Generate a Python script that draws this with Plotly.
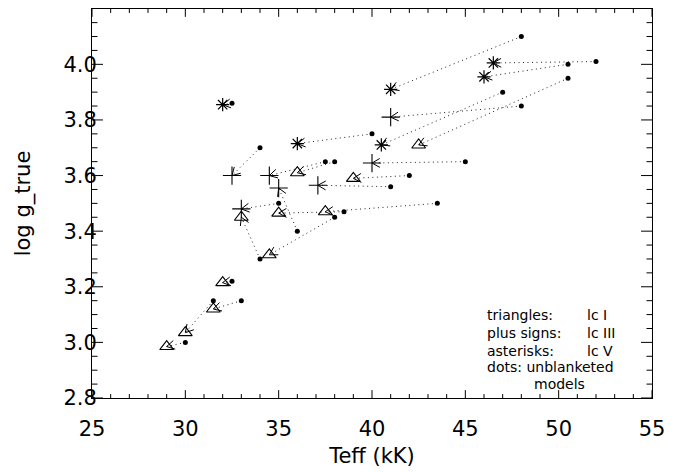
import math
import plotly.graph_objects as go

# Blanketed model fits (marker ends) and matching unblanketed models (dot ends)
# Luminosity class V (asterisks)
ast_teff = [32.0, 36.0, 40.5, 41.0, 46.0, 46.5]
ast_logg = [3.855, 3.715, 3.71, 3.91, 3.955, 4.005]
ast_teff_unbl = [32.5, 40.0, 47.0, 48.0, 50.5, 52.0]
ast_logg_unbl = [3.86, 3.75, 3.90, 4.10, 4.00, 4.01]

# Luminosity class III (plus signs)
plus_teff = [32.5, 34.5, 35.0, 33.0, 37.1, 40.0, 41.0]
plus_logg = [3.60, 3.60, 3.555, 3.48, 3.565, 3.645, 3.81]
plus_teff_unbl = [34.0, 37.5, 36.0, 35.0, 41.0, 45.0, 48.0]
plus_logg_unbl = [3.70, 3.65, 3.40, 3.50, 3.56, 3.65, 3.85]

# Luminosity class I (triangles)
tri_teff = [29.0, 30.0, 31.5, 32.0, 33.0, 34.5, 35.0, 36.0, 37.5, 39.0, 42.5]
tri_logg = [2.985, 3.035, 3.12, 3.215, 3.45, 3.315, 3.465, 3.61, 3.47, 3.59, 3.71]
tri_teff_unbl = [30.0, 31.5, 33.0, 32.5, 34.0, 38.0, 38.5, 38.0, 43.5, 42.0, 50.5]
tri_logg_unbl = [3.00, 3.15, 3.15, 3.22, 3.30, 3.45, 3.47, 3.65, 3.50, 3.60, 3.95]

X_RANGE = [25, 55]
Y_RANGE = [2.8, 4.199]

# axis tick positions (major labelled, minor unlabelled)
x_major = [25, 30, 35, 40, 45, 50, 55]
x_minor = [v for v in range(26, 55) if v % 5]
y_major = [2.8, 3.0, 3.2, 3.4, 3.6, 3.8, 4.0]
y_minor = [round(2.8 + 0.05 * i, 2) for i in range(1, 28) if i % 4]

W, H = 680, 472
M = dict(l=92, r=28, t=8, b=68)
PW = W - M["l"] - M["r"]
PH = H - M["t"] - M["b"]
SX = PW / (X_RANGE[1] - X_RANGE[0])   # pixels per kK
SY = PH / (Y_RANGE[1] - Y_RANGE[0])   # pixels per dex

FONT = "DejaVu Sans"

groups = [
    (ast_teff, ast_logg, ast_teff_unbl, ast_logg_unbl),
    (plus_teff, plus_logg, plus_teff_unbl, plus_logg_unbl),
    (tri_teff, tri_logg, tri_teff_unbl, tri_logg_unbl),
]

# dotted shafts from unblanketed model to blanketed fit
shaft_x, shaft_y = [], []
# open arrow heads at the fit end (30 deg half angle, fixed pixel length)
head_x, head_y = [], []
HEAD_LEN = 9.0
HALF = math.radians(30)
for tx, ty, ux, uy in groups:
    for xm, ym, xd, yd in zip(tx, ty, ux, uy):
        shaft_x += [xd, xm, None]
        shaft_y += [yd, ym, None]
        dx = (xd - xm) * SX
        dy = (yd - ym) * SY
        n = math.hypot(dx, dy)
        ex, ey = dx / n, dy / n
        arms = []
        for s in (HALF, -HALF):
            rx = ex * math.cos(s) - ey * math.sin(s)
            ry = ex * math.sin(s) + ey * math.cos(s)
            arms.append((xm + HEAD_LEN * rx / SX, ym + HEAD_LEN * ry / SY))
        head_x += [arms[0][0], xm, arms[1][0], None]
        head_y += [arms[0][1], ym, arms[1][1], None]

# inward-pointing tick marks on all four sides of the frame
tick_x, tick_y = [], []
x0, x1 = X_RANGE
y0, y1 = Y_RANGE
for vals, length in ((x_major, 8), (x_minor, 4)):
    d = length / SY
    for v in vals:
        tick_x += [v, v, None, v, v, None]
        tick_y += [y0, y0 + d, None, y1, y1 - d, None]
for vals, length in ((y_major, 11), (y_minor, 5.5)):
    d = length / SX
    for v in vals:
        tick_x += [x0, x0 + d, None, x1, x1 - d, None]
        tick_y += [v, v, None, v, v, None]

fig = go.Figure()

fig.add_trace(go.Scatter(
    x=shaft_x, y=shaft_y, mode="lines",
    line=dict(color="#222", width=1, dash="1px,3.5px"),
    hoverinfo="skip", showlegend=False))

fig.add_trace(go.Scatter(
    x=head_x, y=head_y, mode="lines",
    line=dict(color="black", width=1),
    hoverinfo="skip", showlegend=False))

fig.add_trace(go.Scatter(
    x=ast_teff_unbl + plus_teff_unbl + tri_teff_unbl,
    y=ast_logg_unbl + plus_logg_unbl + tri_logg_unbl,
    mode="markers", name="dots: unblanketed models",
    marker=dict(symbol="circle", size=5, color="black"),
    showlegend=False))

fig.add_trace(go.Scatter(
    x=ast_teff, y=ast_logg, mode="markers", name="asterisks: lc V",
    marker=dict(symbol="asterisk-open", size=11, color="black",
                line=dict(color="black", width=1.2)),
    showlegend=False))

fig.add_trace(go.Scatter(
    x=plus_teff, y=plus_logg, mode="markers", name="plus signs: lc III",
    marker=dict(symbol="cross-thin-open", size=13, color="black",
                line=dict(color="black", width=1.1)),
    showlegend=False))

fig.add_trace(go.Scatter(
    x=tri_teff, y=tri_logg, mode="markers", name="triangles: lc I",
    marker=dict(symbol="triangle-up-open", size=12, color="black",
                line=dict(color="black", width=1.1)),
    showlegend=False))

fig.add_trace(go.Scatter(
    x=tick_x, y=tick_y, mode="lines", cliponaxis=False,
    line=dict(color="black", width=1, simplify=False),
    hoverinfo="skip", showlegend=False))

fig.update_xaxes(
    range=X_RANGE, tickmode="array", tickvals=x_major,
    ticktext=[str(v) for v in x_major], ticks="",
    showline=True, linecolor="black", linewidth=1, mirror=True,
    showgrid=False, zeroline=False,
    tickfont=dict(family=FONT, size=21, color="black"),
    ticklabelstandoff=12,
    title=dict(text="Teff (kK)", font=dict(family=FONT, size=21, color="black"),
               standoff=8))

fig.update_yaxes(
    range=Y_RANGE, tickmode="array", tickvals=y_major,
    ticktext=[f"{v:.1f}" for v in y_major], ticks="",
    showline=True, linecolor="black", linewidth=1, mirror=True,
    showgrid=False, zeroline=False,
    tickfont=dict(family=FONT, size=21, color="black"),
    ticklabelstandoff=-10,
    title=dict(text="log g_true", font=dict(family=FONT, size=21, color="black"),
               standoff=27))

legend_left = ["triangles:", "plus signs:", "asterisks:", "dots: unblanketed"]
legend_right = ["lc I", "lc III", "lc V"]
line_y = [320, 338, 356, 372.7]
LEG_FONT = dict(family=FONT, size=14, color="black")
for txt, yp in zip(legend_left, line_y):
    fig.add_annotation(text=txt, xref="paper", yref="paper",
                       x=(485 - M["l"]) / PW, y=(M["t"] + PH - yp) / PH,
                       xanchor="left", yanchor="middle", showarrow=False,
                       font=LEG_FONT)
for txt, yp in zip(legend_right, line_y):
    fig.add_annotation(text=txt, xref="paper", yref="paper",
                       x=(585 - M["l"]) / PW, y=(M["t"] + PH - yp) / PH,
                       xanchor="left", yanchor="middle", showarrow=False,
                       font=LEG_FONT)
fig.add_annotation(text="models", xref="paper", yref="paper",
                   x=(532 - M["l"]) / PW, y=(M["t"] + PH - 389.3) / PH,
                   xanchor="left", yanchor="middle", showarrow=False,
                   font=LEG_FONT)

fig.update_layout(
    width=W, height=H, margin=M,
    paper_bgcolor="white", plot_bgcolor="white",
    showlegend=False,
)

fig.write_html("out.html")
